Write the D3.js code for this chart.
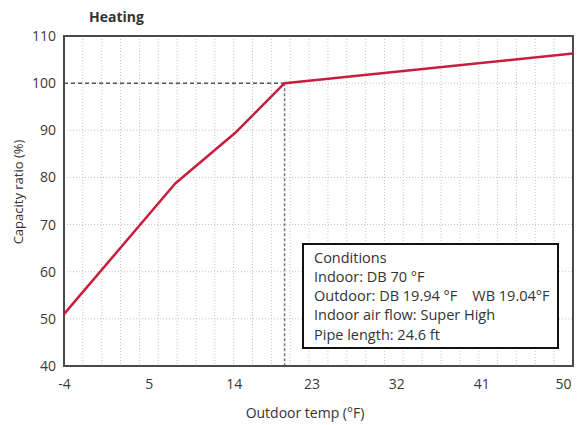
<!DOCTYPE html>
<html><head><meta charset="utf-8">
<script src="https://cdn.jsdelivr.net/npm/d3@7"></script>
<style>body{margin:0;background:#fff}svg{display:block}</style>
</head><body>
<svg id="c" width="578" height="425"></svg>
<script>
const xTicks = [-4, 5, 14, 23, 32, 41, 50];
const yTicks = [40, 50, 60, 70, 80, 90, 100, 110];
const tempF = [-4, 7.8, 14.3, 19.4, 50];
const capacity = [51, 78.7, 89.7, 100, 106.3];
const refPoint = [19.4, 100];
const conditions = ["Conditions", "Indoor: DB 70 \u00B0F", "Outdoor: DB 19.94 \u00B0F    WB 19.04\u00B0F", "Indoor air flow: Super High", "Pipe length: 24.6 ft"];

const svg = d3.select("#c");
const L = 64, R = 573, T = 36, B = 366;
const x = d3.scaleLinear().domain([-4, 50]).range([L, R]);
const y = d3.scaleLinear().domain([40, 110]).range([B, T]);
const font = "'Open Sans', 'Noto Sans', sans-serif";

// grid
svg.append("g").selectAll("line").data(d3.range(-2, 50, 2)).join("line")
  .attr("x1", d => x(d)).attr("x2", d => x(d)).attr("y1", T).attr("y2", B)
  .attr("stroke", "#c4c4c4").attr("stroke-width", 1).attr("stroke-dasharray", "1,2");
svg.append("g").selectAll("line").data(yTicks.slice(1, -1)).join("line")
  .attr("x1", L).attr("x2", R).attr("y1", d => y(d)).attr("y2", d => y(d))
  .attr("stroke", "#c4c4c4").attr("stroke-width", 1).attr("stroke-dasharray", "1,2");

// reference dashed lines
svg.append("line").attr("x1", L).attr("x2", x(refPoint[0])).attr("y1", y(refPoint[1])).attr("y2", y(refPoint[1]))
  .attr("stroke", "#555").attr("stroke-width", 1.5).attr("stroke-dasharray", "4,3");
svg.append("line").attr("x1", x(refPoint[0])).attr("x2", x(refPoint[0])).attr("y1", y(refPoint[1])).attr("y2", B)
  .attr("stroke", "#777").attr("stroke-width", 1.5).attr("stroke-dasharray", "3,2");

// frame
svg.append("rect").attr("x", L).attr("y", T).attr("width", R - L).attr("height", B - T)
  .attr("fill", "none").attr("stroke", "#4a4a4a").attr("stroke-width", 2);

// axes
const xa = svg.append("g").attr("transform", `translate(0,${B})`)
  .call(d3.axisBottom(x).tickValues(xTicks).tickSize(0).tickPadding(13));
const ya = svg.append("g").attr("transform", `translate(${L},0)`)
  .call(d3.axisLeft(y).tickValues(yTicks).tickSize(0).tickPadding(8));
[xa, ya].forEach(a => {
  a.select(".domain").remove();
  a.selectAll("text").attr("font-family", font).attr("font-size", 14).attr("fill", "#3a3a3a");
});
xa.selectAll(".tick text").attr("dx", d => d >= 50 ? -10 : d >= 23 ? -7 : 0)
  .text(d => d < 0 ? "-" + Math.abs(d) : d);

// line
const pts = tempF.map((t, i) => [t, capacity[i]]);
svg.append("path").datum(pts)
  .attr("d", d3.line().x(d => x(d[0])).y(d => y(d[1])))
  .attr("fill", "none").attr("stroke", "#c81e3c").attr("stroke-width", 2.5).attr("stroke-linejoin", "round");

// title
svg.append("text").attr("x", 89).attr("y", 21.5).text("Heating")
  .attr("font-family", font).attr("font-size", 14).attr("font-weight", "bold").attr("fill", "#333");

// axis titles
svg.append("text").attr("x", 305).attr("y", 418).attr("text-anchor", "middle").text("Outdoor temp (\u00B0F)")
  .attr("font-family", font).attr("font-size", 14).attr("fill", "#333");
svg.append("text").attr("transform", "translate(23,192) rotate(-90)").attr("text-anchor", "middle").text("Capacity ratio (%)")
  .attr("font-family", font).attr("font-size", 13).attr("fill", "#333");

// conditions box
svg.append("rect").attr("x", 303).attr("y", 244).attr("width", 255).attr("height", 104)
  .attr("fill", "#fff").attr("stroke", "#111").attr("stroke-width", 2);
svg.append("g").selectAll("text").data(conditions).join("text")
  .attr("x", 314).attr("y", (d, i) => 262.5 + i * 19.3).text(d => d)
  .attr("xml:space", "preserve").style("white-space", "pre")
  .attr("font-family", font).attr("font-size", 14.5).attr("fill", "#333");
</script>
</body></html>
